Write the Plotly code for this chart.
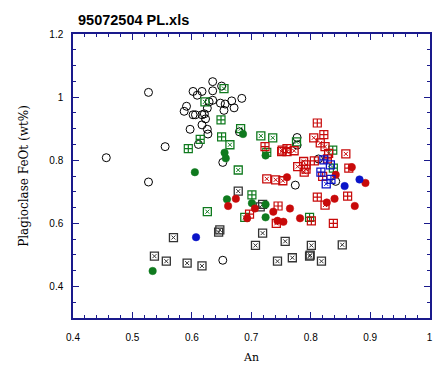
import plotly.graph_objects as go

# ---- data ----
blk_circ_x = [0.527, 0.635, 0.602, 0.617, 0.609, 0.635, 0.650, 0.629, 0.635, 0.648, 0.656, 0.667, 0.684,
              0.591, 0.587, 0.626, 0.654, 0.671, 0.602, 0.606, 0.617, 0.621, 0.623, 0.617, 0.597, 0.626,
              0.627, 0.680, 0.611, 0.555, 0.456, 0.652, 0.527, 0.777, 0.777, 0.813, 0.842, 0.774, 0.652]
blk_circ_y = [1.015, 1.049, 1.018, 1.018, 1.006, 1.020, 1.035, 0.985, 0.990, 0.981, 0.978, 0.988, 0.996,
              0.971, 0.955, 0.965, 0.958, 0.966, 0.944, 0.944, 0.944, 0.947, 0.931, 0.912, 0.898, 0.898,
              0.883, 0.890, 0.850, 0.843, 0.808, 0.793, 0.731, 0.872, 0.848, 0.804, 0.733, 0.721, 0.483]

grn_plus_x = [0.649, 0.650, 0.614, 0.594, 0.726, 0.837, 0.838, 0.701, 0.798]
grn_plus_y = [0.928, 0.874, 0.866, 0.837, 0.825, 0.832, 0.775, 0.690, 0.619]
grn_x_x = [0.654, 0.622, 0.682, 0.664, 0.678, 0.716, 0.736, 0.776, 0.626, 0.689]
grn_x_y = [1.027, 0.985, 0.900, 0.849, 0.769, 0.877, 0.871, 0.858, 0.637, 0.619]
grn_dot_x = [0.686, 0.655, 0.657, 0.605, 0.724, 0.659, 0.701, 0.724, 0.724, 0.534]
grn_dot_y = [0.883, 0.824, 0.806, 0.762, 0.815, 0.676, 0.664, 0.660, 0.619, 0.449]

red_plus_x = [0.723, 0.811, 0.822, 0.760, 0.806, 0.828, 0.864, 0.820, 0.745, 0.697, 0.811, 0.862, 0.801, 0.838]
red_plus_y = [0.843, 0.918, 0.881, 0.837, 0.798, 0.804, 0.775, 0.749, 0.655, 0.629, 0.683, 0.686, 0.608, 0.600]
red_x_x = [0.805, 0.816, 0.824, 0.830, 0.859, 0.752, 0.751, 0.760, 0.772, 0.788, 0.778, 0.792, 0.792,
           0.789, 0.726, 0.741, 0.753, 0.824, 0.742]
red_x_y = [0.871, 0.855, 0.843, 0.822, 0.820, 0.832, 0.827, 0.827, 0.830, 0.796, 0.780, 0.785, 0.772,
           0.762, 0.741, 0.738, 0.735, 0.658, 0.600]
red_dot_x = [0.869, 0.842, 0.892, 0.760, 0.674, 0.661, 0.706, 0.765, 0.737, 0.693, 0.840, 0.827, 0.874,
             0.782, 0.754, 0.744]
red_dot_y = [0.778, 0.754, 0.728, 0.746, 0.678, 0.655, 0.647, 0.647, 0.637, 0.616, 0.678, 0.666, 0.655,
             0.616, 0.605, 0.608]

blu_plus_x = [0.822, 0.817, 0.834]
blu_plus_y = [0.801, 0.762, 0.739]
blu_x_x = [0.833, 0.826]
blu_x_y = [0.785, 0.725]
blu_dot_x = [0.882, 0.857, 0.607]
blu_dot_y = [0.739, 0.718, 0.556]

dk_x_x = [0.678, 0.719, 0.715, 0.647, 0.645, 0.719, 0.757, 0.707, 0.801, 0.853, 0.569, 0.537, 0.557,
          0.592, 0.617, 0.744, 0.769, 0.798, 0.799, 0.818]
dk_x_y = [0.702, 0.660, 0.652, 0.579, 0.572, 0.569, 0.543, 0.530, 0.530, 0.532, 0.555, 0.496, 0.480,
          0.474, 0.465, 0.480, 0.491, 0.496, 0.499, 0.480]

x_tickvals = [0.4, 0.5, 0.6, 0.7, 0.8, 0.9, 1.0]
x_ticktext = ["0.4", "0.5", "0.6", "0.7", "0.8", "0.9", "1"]
y_tickvals = [0.4, 0.6, 0.8, 1.0, 1.2]
y_ticktext = ["0.4", "0.6", "0.8", "1", "1.2"]

GREEN = "#0f7a1e"
RED = "#c80a0a"
BLUE = "#0a14c8"
DARK = "#333333"
NAVY = "#1a1a8c"

fig = go.Figure()


def add_sq_x(xs, ys, color):
    fig.add_trace(go.Scatter(x=xs, y=ys, mode="markers", showlegend=False,
                             marker=dict(symbol="square-open", size=8, color=color,
                                         line=dict(width=1.3, color=color))))
    fig.add_trace(go.Scatter(x=xs, y=ys, mode="markers", showlegend=False,
                             marker=dict(symbol="x-thin-open", size=4, color=color,
                                         line=dict(width=1, color=color))))


def add_sq_plus(xs, ys, color):
    fig.add_trace(go.Scatter(x=xs, y=ys, mode="markers", showlegend=False,
                             marker=dict(symbol="square-cross-open", size=8, color=color,
                                         line=dict(width=1.2, color=color))))


def add_dot(xs, ys, color):
    fig.add_trace(go.Scatter(x=xs, y=ys, mode="markers", showlegend=False,
                             marker=dict(symbol="circle", size=7.5, color=color,
                                         line=dict(width=0.5, color=color))))


fig.add_trace(go.Scatter(x=blk_circ_x, y=blk_circ_y, mode="markers", showlegend=False,
                         marker=dict(symbol="circle-open", size=8, color="black",
                                     line=dict(width=1, color="black"))))
add_sq_x(dk_x_x, dk_x_y, DARK)
add_sq_plus(grn_plus_x, grn_plus_y, GREEN)
add_sq_x(grn_x_x, grn_x_y, GREEN)
add_dot(grn_dot_x, grn_dot_y, GREEN)
add_sq_plus(red_plus_x, red_plus_y, RED)
add_sq_x(red_x_x, red_x_y, RED)
add_dot(red_dot_x, red_dot_y, RED)
add_sq_plus(blu_plus_x, blu_plus_y, BLUE)
add_sq_x(blu_x_x, blu_x_y, BLUE)
add_dot(blu_dot_x, blu_dot_y, BLUE)

axis_common = dict(showgrid=False, zeroline=False, showline=True, linecolor=NAVY, linewidth=1.5,
                   mirror="ticks", ticks="inside", ticklen=6, tickcolor=NAVY, tickwidth=1.2,
                   ticklabeloverflow="allow",
                   tickfont=dict(family="Liberation Sans, Arial", size=10, color="black"))

fig.update_layout(
    width=444, height=373,
    margin=dict(l=73, r=11, t=34, b=51),
    paper_bgcolor="white", plot_bgcolor="white",
    title=dict(text="<b>95072504 PL.xls</b>", x=78 / 444, xanchor="left", y=1 - 20 / 373, yanchor="middle",
               font=dict(family="Liberation Sans, Arial", size=14.5, color="black")),
    xaxis=dict(range=[0.4, 1.0006], tickvals=x_tickvals, ticktext=x_ticktext, ticklabelstandoff=9,
               minor=dict(dtick=0.02, tick0=0.4, ticklen=3, tickcolor=NAVY, ticks="inside"),
               title=dict(text="An", standoff=12,
                          font=dict(family="DejaVu Serif", size=11, color="black")),
               **axis_common),
    yaxis=dict(range=[0.3, 1.2], tickvals=y_tickvals, ticktext=y_ticktext, ticklabelstandoff=6,
               minor=dict(dtick=0.05, tick0=0.3, ticklen=3, tickcolor=NAVY, ticks="inside"),
               title=dict(text="Plagioclase FeOt (wt%)", standoff=18,
                          font=dict(family="DejaVu Serif", size=12, color="black")),
               **axis_common),
)

fig.write_html("out.html", config={"displayModeBar": False},
               post_script="document.body.style.margin='0';document.body.style.padding='0';")
